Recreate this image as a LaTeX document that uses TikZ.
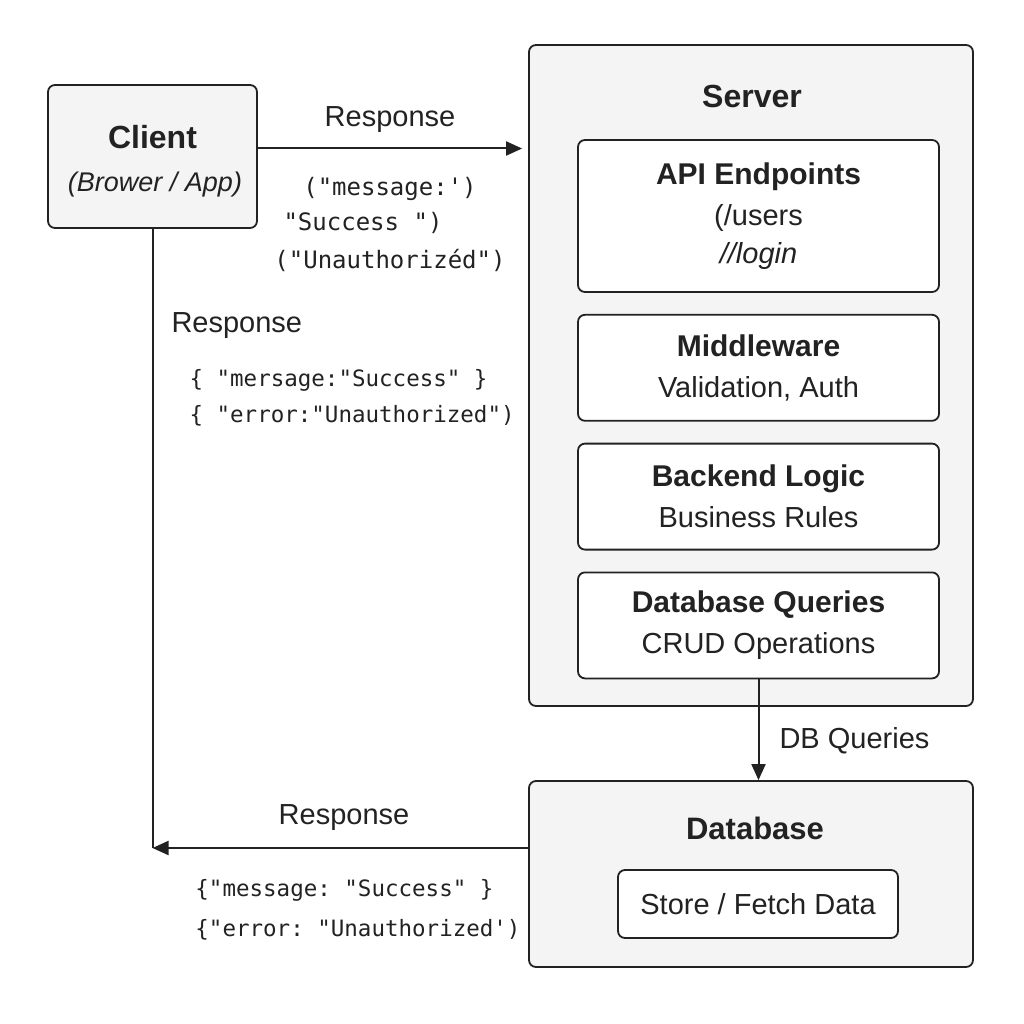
\documentclass[tikz,border=0pt]{standalone}
\usepackage{fontspec}
\setmainfont{Liberation Sans}
\setmonofont{DejaVu Sans Mono}
\usepackage{tikz}
\usetikzlibrary{positioning,arrows.meta}

\definecolor{boxgray}{HTML}{F4F4F4}
\definecolor{ink}{HTML}{222222}

\tikzset{
    outerbox/.style={draw=ink, line width=1.8pt, rounded corners=7pt, fill=boxgray},
    innerbox/.style={draw=ink, line width=1.8pt, rounded corners=7pt, fill=white, align=center,
        minimum width=361pt, font=\fontsize{29}{34}\selectfont},
    bigtitle/.style={font=\fontsize{32}{38}\selectfont\bfseries},
    flowlabel/.style={font=\fontsize{29}{34}\selectfont},
    jsonlabel/.style={font=\fontsize{23}{38}\ttfamily, align=center},
    flow/.style={draw=ink, line width=2pt, -{Triangle[length=16pt,width=14pt]}}
}

\begin{document}
\begin{tikzpicture}[x=1pt, y=-1pt, ink]
        \useasboundingbox[fill=white] (0,0) rectangle (1024,1024);

        % client side
        \node[outerbox, align=center, minimum width=209pt, minimum height=143pt] (client) at (152.5,156.5) {};
        \node[bigtitle] (clienttitle) at (152.5,137) {Client};
        \node[flowlabel, font=\fontsize{27}{32}\selectfont\itshape] (clientsub) at (155,185) {(Brower / App)};

        % server and its layers
        \node[outerbox, minimum width=444pt, minimum height=661pt] (server) at (751,375.5) {};
        \node[bigtitle] (servertitle) at (752,96) {Server};
        \node[innerbox, minimum height=152pt] (api) at (758.5,216)
            {{\fontsize{30}{34}\selectfont\bfseries API Endpoints}\\[7pt](/users\\[4pt]\textit{//login}};
        \node[innerbox, minimum height=106pt, below = 21pt of api] (middleware)
            {{\fontsize{30}{34}\selectfont\bfseries Middleware}\\[7pt]Validation, Auth};
        \node[innerbox, minimum height=106pt, below = 21pt of middleware] (logic)
            {{\fontsize{30}{34}\selectfont\bfseries Backend Logic}\\[7pt]Business Rules};
        \node[innerbox, minimum height=106pt, below = 21pt of logic] (queries)
            {{\fontsize{30}{34}\selectfont\bfseries Database Queries}\\[7pt]CRUD Operations};

        % database
        \node[outerbox, minimum width=444pt, minimum height=186pt] (database) at (751,874) {};
        \node[bigtitle, font=\fontsize{31}{36}\selectfont\bfseries] (dbtitle) at (755,828) {Database};
        \node[innerbox, minimum width=280pt, minimum height=68pt] (store) at (758,904) {Store / Fetch Data};

        % connectors
        \path[flow] ([yshift=8pt]client.east) -- ([yshift=8pt]client.east -| server.west)
            [shorten >=6pt];
        \node[flowlabel] (toplabel) at (390,120) {Response};
        \node[jsonlabel, font=\fontsize{24}{37.5}\ttfamily] (topjson) at (390,224)
            {("message:')\\[-2pt]\hspace*{-54pt}"Success ")\\("Unauthoriz\'ed")};

        \coordinate (ret) at ([yshift=26pt]database.west);
        \draw[draw=ink, line width=2pt] (client.south) -- (client.south |- ret);
        \path[flow] (ret) -- (client.south |- ret);
        \node[flowlabel, anchor=west] (leftlabel) at (168,326) {Response};
        \node[jsonlabel, anchor=west, align=left, font=\fontsize{22.5}{36}\ttfamily] (leftjson) at (186,398)
            {\{ "mersage:"Success" \}\\\{ "error:"Unauthorized")};
        \node[flowlabel] (bottomlabel) at (344,818) {Response};
        \node[jsonlabel, align=left, font=\fontsize{22.5}{40}\ttfamily] (bottomjson) at (358,910)
            {\{"message: "Success" \}\\\{"error: "Unauthorized')};

        \path[flow] (queries.south) -- (queries.south |- database.north);
        \node[flowlabel, anchor=west] (dblabel) at (776,741) {DB Queries};
\end{tikzpicture}
\end{document}
